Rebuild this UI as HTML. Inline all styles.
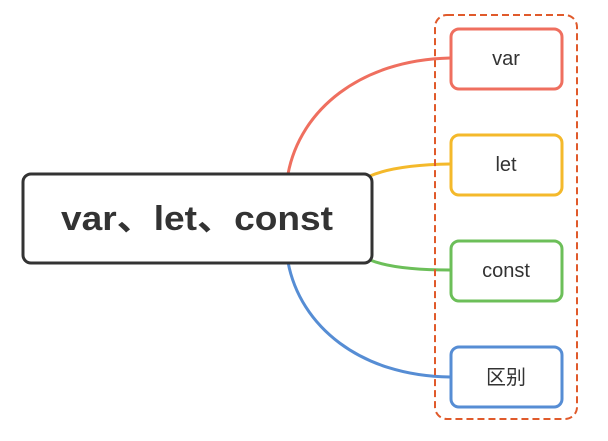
<!DOCTYPE html>
<html><head><meta charset="utf-8"><style>
body{margin:0;background:#fff;width:608px;height:441px;overflow:hidden}
svg{display:block}
text{font-family:"Liberation Sans","Noto Sans CJK SC",sans-serif;fill:#333}
</style></head><body>
<svg width="608" height="441" viewBox="0 0 608 441">
<path d="M288,174 C300,110 360,60 450,58" fill="none" stroke="#ef6f5f" stroke-width="3"/>
<path d="M288,262 C300,326 360,376 450,377" fill="none" stroke="#568dd4" stroke-width="3"/>
<path d="M370,176 Q395,165 450,164" fill="none" stroke="#f4b92b" stroke-width="3"/>
<path d="M370,260 Q395,270 450,270" fill="none" stroke="#6cbf59" stroke-width="3"/>
<rect x="435" y="15" width="142" height="404" rx="12" fill="none" stroke="#e05a2b" stroke-width="2" stroke-dasharray="7,4"/>
<rect x="23" y="174" width="349" height="89" rx="8" fill="#fff" stroke="#333" stroke-width="3"/>
<text x="197" y="230" text-anchor="middle" font-size="34" font-weight="bold" textLength="272" lengthAdjust="spacingAndGlyphs">var、let、const</text>
<rect x="451" y="29" width="111" height="60" rx="8" fill="#fff" stroke="#ef6f5f" stroke-width="3"/>
<text x="506" y="65" text-anchor="middle" font-size="20">var</text>
<rect x="451" y="135" width="111" height="60" rx="8" fill="#fff" stroke="#f4b92b" stroke-width="3"/>
<text x="506" y="171" text-anchor="middle" font-size="20">let</text>
<rect x="451" y="241" width="111" height="60" rx="8" fill="#fff" stroke="#6cbf59" stroke-width="3"/>
<text x="506" y="277" text-anchor="middle" font-size="20">const</text>
<rect x="451" y="347" width="111" height="60" rx="8" fill="#fff" stroke="#568dd4" stroke-width="3"/>
<text x="506" y="384" text-anchor="middle" font-size="20">区别</text>
</svg>
</body></html>
